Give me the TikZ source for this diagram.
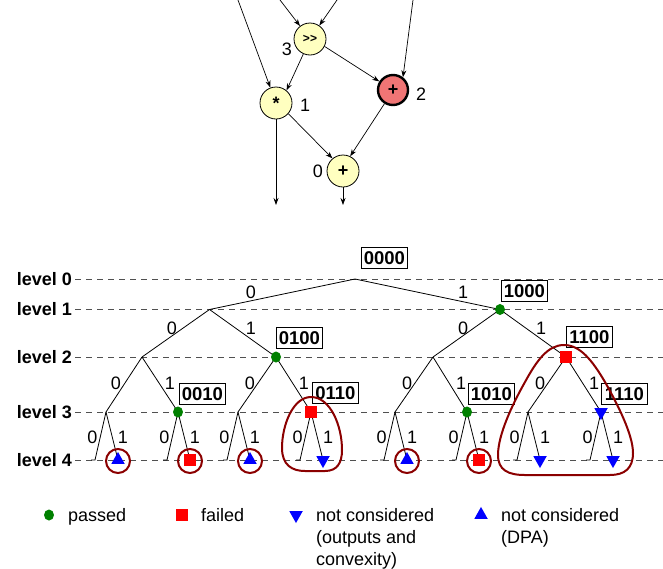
\documentclass[tikz,border=0pt]{standalone}
\usepackage{fontspec}
\setmainfont{Liberation Sans}
\usetikzlibrary{shapes.geometric,arrows.meta,calc}
\definecolor{dagyellow}{HTML}{FFFFC0}
\definecolor{dagred}{HTML}{F07575}
\definecolor{ringred}{HTML}{8B0000}
\definecolor{passgreen}{HTML}{008000}
\definecolor{dashgray}{HTML}{505050}
\begin{document}
\begin{tikzpicture}[x=1pt,y=-1pt,
  font=\fontsize{18}{21.7}\selectfont,
  dagnode/.style={circle,draw,line width=0.8pt,fill=dagyellow,minimum size=32,inner sep=0pt,font=\fontsize{18}{18}\selectfont\bfseries},
  dagred/.style={dagnode,fill=dagred,line width=2.4pt,minimum size=30},
  dagarrow/.style={line width=0.7pt,-{Stealth[length=7pt,width=5pt]}},
  lab/.style={inner sep=0pt},
  lvl/.style={inner sep=0pt,font=\fontsize{18}{18}\selectfont\bfseries},
  levelline/.style={dashgray,line width=0.9pt,dash pattern=on 6pt off 5pt},
  edge/.style={line width=0.8pt},
  elab/.style={inner sep=0pt},
  cbox/.style={draw,line width=0.9pt,fill=white,minimum width=46,minimum height=21,inner sep=0pt,font=\fontsize{18.5}{18.5}\selectfont\bfseries},
  gdot/.style={ellipse,fill=passgreen,minimum width=10,minimum height=11,inner sep=0pt},
  rsq/.style={rectangle,fill=red,minimum size=11.5,inner sep=0pt},
  dtri/.style={isosceles triangle,isosceles triangle stretches=true,shape border rotate=-90,fill=blue,minimum height=12,minimum width=13.5,inner sep=0pt},
  utri/.style={isosceles triangle,isosceles triangle stretches=true,shape border rotate=90,fill=blue,minimum height=12,minimum width=13.5,inner sep=0pt},
  ring/.style={draw=ringred,line width=2pt},
]
\useasboundingbox (0,0) rectangle (663,568);

% ---------------- DAG ----------------
\node[dagnode,font=\fontsize{12}{12}\selectfont\bfseries] (n3) at (310,39) {>\kern0.3pt>};
\node[dagnode] (n1) at (276,103) {*};
\node[dagred] (n2) at (393,90) {+};
\node[dagnode] (n0) at (343,171) {+};
\node[lab] (l3) at (287,49) {3};
\node[lab] (l1) at (305,105) {1};
\node[lab] (l2) at (421,94) {2};
\node[lab] (l0) at (318,171) {0};

\coordinate (i1) at (238,0);
\coordinate (i2) at (280,0);
\coordinate (i3) at (337,0);
\coordinate (i4) at (413,0);
\coordinate (o1) at (276,205);
\coordinate (o2) at (343,205);

\draw[dagarrow] (i1) -- (n1);
\draw[dagarrow] (i2) -- (n3);
\draw[dagarrow] (i3) -- (n3);
\draw[dagarrow] (i4) -- (n2.52);
\draw[dagarrow] (n3.-114) -- (n1.50);
\draw[dagarrow] (n3.-27) -- (n2.148);
\draw[dagarrow] (n1.-41) -- (n0.130);
\draw[dagarrow] (n2.-122) -- (n0.64);
\draw[dagarrow] (n1.south) -- (o1);
\draw[dagarrow] (n0.south) -- (o2);

% ---------------- levels ----------------
\foreach \k/\y in {0/279,1/309.5,2/357,3/412,4/460}{
  \node[lvl,anchor=east] (lv\k) at (72,\y) {level \k};
  \coordinate (le\k) at (663,\y);
  \draw[levelline] ([xshift=3pt]lv\k.east) -- (le\k);
}

% ---------------- tree ----------------
\coordinate (r) at (355,279);
\coordinate (a0) at (209.5,309.5);
\coordinate (a1) at (500,309.5);
\coordinate (b00) at (142,357);
\coordinate (b01) at (276,357);
\coordinate (b10) at (433,357);
\coordinate (b11) at (566,357);
\coordinate (c000) at (106,412);
\coordinate (c001) at (178,412);
\coordinate (c010) at (238,412);
\coordinate (c011) at (311,412);
\coordinate (c100) at (395,412);
\coordinate (c101) at (467,412);
\coordinate (c110) at (528,412);
\coordinate (c111) at (601,412);

\draw[edge] (r) -- (a0);
\draw[edge] (r) -- (a1);
\node[elab] at (251,292) {0};
\node[elab] at (463,292) {1};
\draw[edge] (a0) -- (b00);
\draw[edge] (a0) -- (b01);
\node[elab] at (172,328) {0};
\node[elab] at (251,328) {1};
\draw[edge] (a1) -- (b10);
\draw[edge] (a1) -- (b11);
\node[elab] at (463,328) {0};
\node[elab] at (541,328) {1};

\foreach \p/\q/\x in {b00/c00/142,b01/c01/276,b10/c10/433,b11/c11/566}{
  \draw[edge] (\p) -- (\q0);
  \draw[edge] (\p) -- (\q1);
  \node[elab] at (\x-26,383) {0};
  \node[elab] at (\x+28,383) {1};
}

\foreach \p/\x in {c000/106,c001/178,c010/238,c011/311,c100/395,c101/467,c110/528,c111/601}{
  \coordinate (\p0) at (\x-11,460);
  \coordinate (\p1) at (\x+12,460);
  \draw[edge] (\p) -- (\p0) -- ++(-4,0);
  \draw[edge] (\p) -- (\p1);
  \node[elab] at (\x-13.5,437) {0};
  \node[elab] at (\x+17,437) {1};
}

% markers
\node[gdot] (m1000) at (a1) {};
\node[gdot] (m0100) at (b01) {};
\node[rsq] (m1100) at (b11) {};
\node[gdot] (m0010) at (c001) {};
\node[rsq] (m0110) at (c011) {};
\node[gdot] (m1010) at (c101) {};
\node[dtri] (m1110) at (c111) {};
\node[utri] (m0001) at (c0001) {};
\node[rsq] (m0011) at (c0011) {};
\node[utri] (m0101) at (c0101) {};
\node[dtri] (m0111) at (c0111) {};
\node[utri] (m1001) at (c1001) {};
\node[rsq] (m1011) at (c1011) {};
\node[dtri] (m1101) at (c1101) {};
\node[dtri] (m1111) at (c1111) {};

% boxes
\node[cbox,anchor=south west] (k0000) at ($(r)+(6,-10)$) {0000};
\node[cbox,anchor=south west] (k1000) at ($(a1)+(1,-7.5)$) {1000};
\node[cbox,anchor=south west] (k0100) at ($(b01)+(0,-8)$) {0100};
\node[cbox,anchor=south west] (k1100) at ($(b11)+(0,-9)$) {1100};
\node[cbox,anchor=south west] (k0010) at ($(c001)+(1,-7)$) {0010};
\node[cbox,anchor=south west] (k0110) at ($(c011)+(1,-8)$) {0110};
\node[cbox,anchor=south west] (k1010) at ($(c101)+(1,-7)$) {1010};
\node[cbox,anchor=south west] (k1110) at ($(c111)+(0,-7)$) {1110};

% rings
\foreach \p in {c0001,c0011,c0101,c1001,c1011}{
  \draw[ring] ($(\p)+(0,1)$) circle[radius=12];
}
\draw[ring] (311,397) .. controls (293,397) and (282,425) .. (282,448)
  .. controls (282,465) and (292,471) .. (305,471) -- (325,471)
  .. controls (337,471) and (342,463) .. (342,450)
  .. controls (342,425) and (330,397) .. (311,397) -- cycle;
\draw[ring] (564,345) .. controls (548,345) and (537,360) .. (525,382)
  .. controls (512,405) and (498,435) .. (498,455)
  .. controls (498,470) and (508,475) .. (525,475) -- (610,475)
  .. controls (625,475) and (633,468) .. (633,453)
  .. controls (633,435) and (618,405) .. (605,382)
  .. controls (592,360) and (580,345) .. (564,345) -- cycle;

% ---------------- legend ----------------
\node[gdot] (g1) at (49,515) {};
\node[lab,anchor=base west] (t1) at (68,521.5) {passed};
\node[rsq] (g2) at (182,515) {};
\node[lab,anchor=base west] (t2) at (201,521.5) {failed};
\node[dtri] (g3) at (296,515) {};
\node[lab,anchor=north west,align=left] (t3) at (316,508.5) {not considered\\(outputs and\\convexity)};
\node[utri] (g4) at (481,515) {};
\node[lab,anchor=north west,align=left] (t4) at (501,508.5) {not considered\\(DPA)};
\end{tikzpicture}
\end{document}
